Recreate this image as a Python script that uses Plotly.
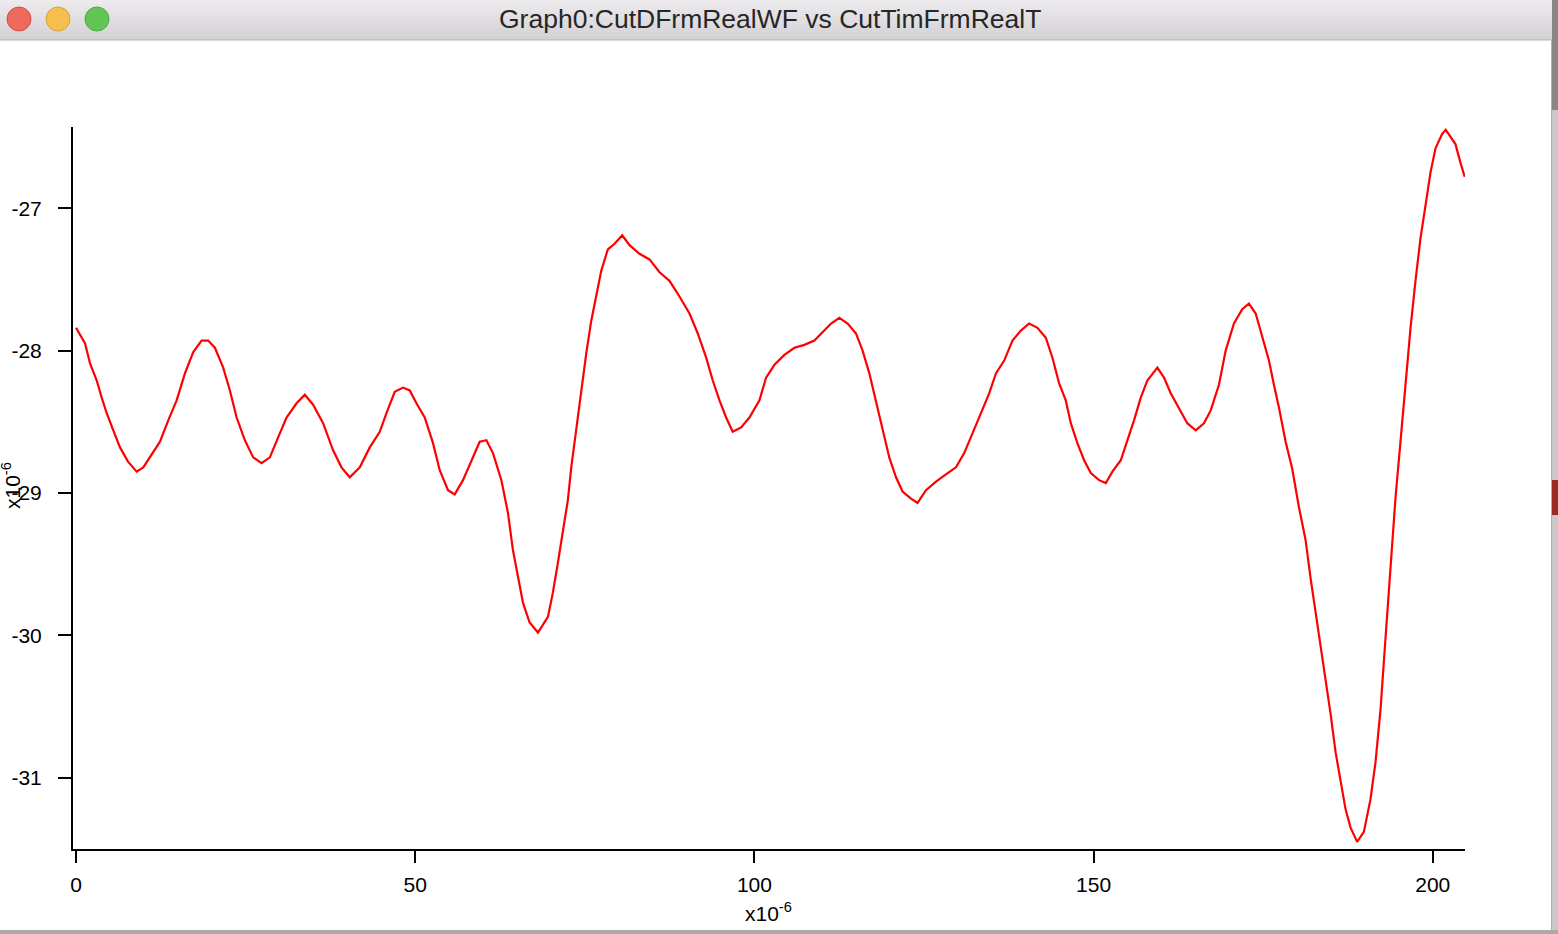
import plotly.graph_objects as go

# ---- data (time in units of 1e-6, value in units of 1e-6) ----
time_us = [
    0.00, 1.33, 2.06, 3.05, 3.78, 4.52, 5.49, 6.48, 7.66, 8.94,
    9.91, 11.15, 12.37, 13.59, 14.83, 16.05, 17.28, 18.51, 19.48, 20.47,
    21.69, 22.68, 23.67, 24.89, 26.11, 27.35, 28.57, 29.79, 31.03, 32.50,
    33.73, 34.95, 36.42, 37.89, 39.13, 40.35, 41.83, 43.30, 44.77, 45.76,
    46.98, 48.20, 49.19, 50.18, 51.40, 52.62, 53.61, 54.83, 55.82, 57.04,
    58.28, 59.50, 60.49, 61.46, 62.70, 63.67, 64.40, 65.14, 65.88, 66.86,
    68.09, 69.56, 70.29, 71.03, 71.77, 72.50, 73.00, 73.74, 74.48, 75.21,
    75.95, 76.69, 77.42, 78.39, 79.38, 80.52, 81.59, 83.06, 84.54, 86.01,
    87.48, 88.95, 90.43, 91.65, 92.89, 93.86, 94.85, 95.83, 96.80, 98.04,
    99.26, 100.74, 101.72, 102.95, 104.42, 105.89, 107.36, 108.84, 110.06, 111.30,
    112.52, 113.74, 114.98, 115.95, 116.94, 117.92, 118.90, 119.88, 120.87, 121.84,
    123.08, 124.05, 125.29, 126.76, 128.23, 129.71, 130.93, 132.15, 133.39, 134.61,
    135.60, 136.82, 138.04, 139.28, 140.50, 141.72, 142.96, 143.93, 144.92, 145.90,
    146.64, 147.61, 148.60, 149.59, 150.81, 151.80, 152.77, 154.01, 154.98, 155.96,
    156.95, 157.92, 159.40, 160.38, 161.37, 162.59, 163.81, 165.05, 166.27, 167.26,
    168.48, 169.47, 170.69, 171.91, 172.90, 173.89, 174.86, 175.85, 176.58, 177.32,
    178.31, 179.28, 180.27, 181.25, 181.99, 182.72, 183.46, 184.20, 184.93, 185.67,
    186.41, 187.14, 187.88, 188.85, 189.84, 190.82, 191.56, 192.30, 193.03, 193.77,
    194.51, 195.24, 195.98, 196.72, 197.45, 198.19, 198.93, 199.66, 200.40, 201.37,
    201.91, 203.34, 204.08, 204.71,
]
cut_d = [
    -27.84, -27.95, -28.09, -28.21, -28.33, -28.44, -28.56, -28.68, -28.78, -28.85,
    -28.82, -28.73, -28.64, -28.49, -28.35, -28.16, -28.01, -27.93, -27.93, -27.98,
    -28.12, -28.28, -28.47, -28.63, -28.75, -28.79, -28.75, -28.61, -28.47, -28.37,
    -28.31, -28.38, -28.51, -28.70, -28.82, -28.89, -28.82, -28.68, -28.57, -28.44,
    -28.29, -28.26, -28.28, -28.37, -28.47, -28.65, -28.84, -28.98, -29.01, -28.91,
    -28.77, -28.64, -28.63, -28.72, -28.91, -29.14, -29.40, -29.59, -29.77, -29.91,
    -29.98, -29.87, -29.70, -29.49, -29.28, -29.05, -28.82, -28.54, -28.26, -28.02,
    -27.79, -27.60, -27.44, -27.29, -27.25, -27.19, -27.26, -27.32, -27.36, -27.45,
    -27.51, -27.62, -27.74, -27.88, -28.05, -28.21, -28.35, -28.47, -28.57, -28.54,
    -28.47, -28.35, -28.19, -28.10, -28.03, -27.98, -27.96, -27.93, -27.87, -27.81,
    -27.77, -27.81, -27.88, -28.00, -28.16, -28.35, -28.56, -28.75, -28.89, -28.99,
    -29.04, -29.07, -28.98, -28.92, -28.87, -28.82, -28.72, -28.58, -28.44, -28.30,
    -28.16, -28.07, -27.93, -27.86, -27.81, -27.84, -27.91, -28.05, -28.23, -28.35,
    -28.51, -28.65, -28.77, -28.86, -28.91, -28.93, -28.85, -28.77, -28.63, -28.49,
    -28.33, -28.21, -28.12, -28.19, -28.30, -28.40, -28.51, -28.56, -28.51, -28.42,
    -28.24, -28.00, -27.81, -27.71, -27.67, -27.74, -27.91, -28.07, -28.24, -28.40,
    -28.64, -28.83, -29.10, -29.33, -29.60, -29.83, -30.06, -30.29, -30.55, -30.82,
    -31.02, -31.22, -31.35, -31.45, -31.38, -31.15, -30.89, -30.52, -30.02, -29.53,
    -29.03, -28.64, -28.24, -27.84, -27.51, -27.21, -26.98, -26.75, -26.58, -26.48,
    -26.45, -26.55, -26.68, -26.78,
]
x_ticks = [0, 50, 100, 150, 200]
y_ticks = [-31, -30, -29, -28, -27]
window_title = "Graph0:CutDFrmRealWF vs CutTimFrmRealT"
axis_exp_label = "x10<sup>-6</sup>"

# ---- geometry (pixels) ----
W, H = 1558, 934
L, R, T, B = 73, 1558 - 1465, 127, 934 - 849
PW, PH = W - L - R, H - T - B


def px(xp):
    return (xp - L) / PW


def py(yp):
    return (H - B - yp) / PH


fig = go.Figure()
fig.add_trace(go.Scatter(
    x=time_us, y=cut_d, mode="lines",
    line=dict(color="#ff0000", width=2.2),
    hoverinfo="skip", showlegend=False,
))

shapes = []
# title bar gradient
top_c = (236, 234, 236)
bot_c = (212, 210, 212)
nb = 10
for i in range(nb):
    f = i / (nb - 1)
    c = tuple(int(round(top_c[k] + (bot_c[k] - top_c[k]) * f)) for k in range(3))
    y0 = 40 * i / nb
    y1 = 40 * (i + 1) / nb
    shapes.append(dict(type="rect", xref="paper", yref="paper",
                       x0=px(0), x1=px(1552), y0=py(y1), y1=py(y0),
                       fillcolor="rgb(%d,%d,%d)" % c, line=dict(width=0), layer="above"))
shapes.append(dict(type="line", xref="paper", yref="paper",
                   x0=px(0), x1=px(1552), y0=py(40), y1=py(40),
                   line=dict(color="#b4b4b4", width=1)))
# traffic lights
for cx, col, edge in [(19, "#ee6a5f", "#d0504a"), (58, "#f5be4f", "#d6a13b"), (97, "#62c655", "#4ea843")]:
    shapes.append(dict(type="circle", xref="paper", yref="paper",
                       x0=px(cx - 12), x1=px(cx + 12), y0=py(31), y1=py(7),
                       fillcolor=col, line=dict(color=edge, width=1)))
# right edge (desktop behind window)
shapes.append(dict(type="rect", xref="paper", yref="paper",
                   x0=px(1552), x1=px(1558), y0=py(934), y1=py(0),
                   fillcolor="#c9c7c9", line=dict(width=0)))
shapes.append(dict(type="rect", xref="paper", yref="paper",
                   x0=px(1552), x1=px(1558), y0=py(110), y1=py(0),
                   fillcolor="#8d8486", line=dict(width=0)))
shapes.append(dict(type="rect", xref="paper", yref="paper",
                   x0=px(1552), x1=px(1558), y0=py(515), y1=py(480),
                   fillcolor="#9b2a22", line=dict(width=0)))
shapes.append(dict(type="line", xref="paper", yref="paper",
                   x0=px(1551.5), x1=px(1551.5), y0=py(934), y1=py(40),
                   line=dict(color="#b0b0b0", width=1)))
# bottom edge of window
shapes.append(dict(type="rect", xref="paper", yref="paper",
                   x0=px(0), x1=px(1558), y0=py(934), y1=py(930),
                   fillcolor="#a9a9a9", line=dict(width=0)))

annotations = [
    dict(text=window_title, xref="paper", yref="paper", x=px(770), y=py(19),
         showarrow=False, xanchor="center", yanchor="middle",
         font=dict(family="Liberation Sans, Arial, sans-serif", size=26.5, color="#262626")),
    dict(text=axis_exp_label, xref="paper", yref="paper", x=px(768), y=py(912),
         showarrow=False, xanchor="center", yanchor="middle",
         font=dict(family="Liberation Sans, Arial, sans-serif", size=21, color="#000")),
    dict(text=axis_exp_label, xref="paper", yref="paper", x=px(11), y=py(486),
         showarrow=False, xanchor="center", yanchor="middle", textangle=-90,
         font=dict(family="Liberation Sans, Arial, sans-serif", size=21, color="#000")),
]

axis_font = dict(family="Liberation Sans, Arial, sans-serif", size=21, color="#000")
fig.update_layout(
    width=W, height=H,
    margin=dict(l=L, r=R, t=T, b=B, pad=0),
    paper_bgcolor="white", plot_bgcolor="white",
    showlegend=False,
    shapes=shapes,
    annotations=annotations,
    xaxis=dict(range=[-0.45, 204.75], tickvals=x_ticks, ticktext=[str(v) for v in x_ticks],
               showgrid=False, zeroline=False, showline=True, linecolor="#000", linewidth=2,
               ticks="outside", ticklen=12, tickwidth=2, tickcolor="#000",
               tickfont=axis_font, ticklabelstandoff=4),
    yaxis=dict(range=[-31.50, -26.43], tickvals=y_ticks, ticktext=[str(v) for v in y_ticks],
               showgrid=False, zeroline=False, showline=True, linecolor="#000", linewidth=2,
               ticks="outside", ticklen=13, tickwidth=2, tickcolor="#000",
               tickfont=axis_font, ticklabelstandoff=12),
)

fig.write_html("out.html",
               config={"displayModeBar": False},
               post_script="document.body.style.margin='0';document.body.style.overflow='hidden';")
